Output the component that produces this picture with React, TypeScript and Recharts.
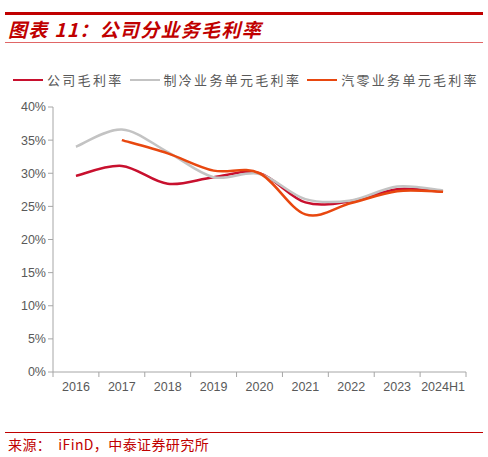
import React from 'react';
import { LineChart, Line, XAxis, YAxis } from 'recharts';

const categories = ['2016', '2017', '2018', '2019', '2020', '2021', '2022', '2023', '2024H1'];
const companyMargin = [29.6, 31.1, 28.4, 29.4, 30.0, 25.6, 25.8, 27.6, 27.2];
const coolingMargin = [34.0, 36.6, 33.2, 29.4, 29.9, 26.1, 25.9, 28.0, 27.4];
const autoMargin = [null, 35.0, 33.0, 30.4, 30.0, 23.8, 25.5, 27.3, 27.2];
const yTicks = [0, 5, 10, 15, 20, 25, 30, 35, 40];

const series = [
  { key: 'company', name: '公司毛利率', color: '#C8102E', values: companyMargin },
  { key: 'cooling', name: '制冷业务单元毛利率', color: '#C3C3C3', values: coolingMargin },
  { key: 'auto', name: '汽零业务单元毛利率', color: '#E8470F', values: autoMargin },
];

const data = categories.map((c, i) => {
  const row: Record<string, any> = { cat: c };
  series.forEach((s) => {
    row[s.key] = s.values[i];
  });
  return row;
});

const FONT = '"Liberation Sans", Arial, sans-serif';
const CJK = '"Noto Sans CJK SC", sans-serif';

// Catmull-Rom style smoothing (similar to spreadsheet "smoothed line")
function smoothCurve(context: any) {
  let pts: [number, number][] = [];
  const flush = () => {
    const n = pts.length;
    if (n === 0) return;
    context.moveTo(pts[0][0], pts[0][1]);
    if (n === 1) return;
    for (let i = 0; i < n - 1; i++) {
      const p0 = pts[i - 1] || pts[i];
      const p1 = pts[i];
      const p2 = pts[i + 1];
      const p3 = pts[i + 2] || p2;
      const c1x = p1[0] + (p2[0] - p0[0]) / 6;
      const c1y = p1[1] + (p2[1] - p0[1]) / 6;
      const c2x = p2[0] - (p3[0] - p1[0]) / 6;
      const c2y = p2[1] - (p3[1] - p1[1]) / 6;
      context.bezierCurveTo(c1x, c1y, c2x, c2y, p2[0], p2[1]);
    }
  };
  return {
    areaStart() {},
    areaEnd() {},
    lineStart() {
      pts = [];
    },
    lineEnd() {
      flush();
      pts = [];
    },
    point(x: number, y: number) {
      pts.push([+x, +y]);
    },
  };
}

const XTick = (props: any) => {
  const { x, y, payload, index, visibleTicksCount } = props;
  const bw = 413 / categories.length;
  const count = visibleTicksCount || categories.length;
  return (
    <g>
      <line x1={x - bw / 2} y1={y - 8} x2={x - bw / 2} y2={y - 3} stroke="#A6A6A6" strokeWidth={1} />
      {index === count - 1 && (
        <line x1={x + bw / 2} y1={y - 8} x2={x + bw / 2} y2={y - 3} stroke="#A6A6A6" strokeWidth={1} />
      )}
      <text x={x} y={y + 11} textAnchor="middle" fill="#595959" fontSize={12.5} fontFamily={FONT}>
        {payload.value}
      </text>
    </g>
  );
};

const LegendBlock = () => (
  <div
    style={{
      position: 'absolute',
      left: 13,
      top: 71,
      display: 'flex',
      alignItems: 'center',
      fontFamily: CJK,
      fontSize: 13,
      color: '#595959',
      letterSpacing: 2.3,
      whiteSpace: 'nowrap',
      lineHeight: '18px',
    }}
  >
    {series.map((s) => (
      <div key={s.key} style={{ display: 'flex', alignItems: 'center', marginRight: 6 }}>
        <div style={{ width: 30, height: 2.5, background: s.color, marginRight: 4 }} />
        <span>{s.name}</span>
      </div>
    ))}
  </div>
);

export default function App() {
  return (
    <div style={{ position: 'absolute', left: 0, top: 0, width: 488, height: 457, background: '#fff', overflow: 'hidden' }}>
      <div style={{ position: 'absolute', left: 5, top: 12, width: 478, height: 3, background: '#C00000' }} />
      <div
        style={{
          position: 'absolute',
          left: 8,
          top: 17,
          fontFamily: CJK,
          fontWeight: 700,
          fontStyle: 'italic',
          fontSize: 19,
          color: '#C00000',
          whiteSpace: 'nowrap',
          letterSpacing: 1.3,
          lineHeight: '24px',
        }}
      >
        图表 11：公司分业务毛利率
      </div>
      <div style={{ position: 'absolute', left: 5, top: 42, width: 478, height: 1, background: '#E06666' }} />
      <LegendBlock />
      <div style={{ position: 'absolute', left: 0, top: 0 }}>
        <LineChart width={488} height={457} data={data} margin={{ top: 107, right: 22, bottom: 55, left: 10 }}>
          <XAxis
            dataKey="cat"
            height={30}
            axisLine={{ stroke: '#A6A6A6' }}
            tickLine={false}
            tick={<XTick />}
            interval={0}
            padding={{ left: 413 / 18, right: 413 / 18 }}
          />
          <YAxis
            width={43}
            domain={[0, 40]}
            ticks={yTicks}
            interval={0}
            tickFormatter={(v: number) => `${v}%`}
            axisLine={{ stroke: '#A6A6A6' }}
            tickLine={{ stroke: '#A6A6A6' }}
            tickSize={5}
            tick={{ fill: '#595959', fontSize: 12.5, fontFamily: FONT }}
          />
          {series.map((s) => (
            <Line
              key={s.key}
              dataKey={s.key}
              name={s.name}
              type={smoothCurve as any}
              stroke={s.color}
              strokeWidth={2.5}
              dot={false}
              activeDot={false}
              isAnimationActive={false}
            />
          ))}
        </LineChart>
      </div>
      <div style={{ position: 'absolute', left: 5, top: 432, width: 478, height: 1, background: '#C00000' }} />
      <div
        style={{
          position: 'absolute',
          left: 8,
          top: 435,
          fontFamily: CJK,
          fontSize: 14,
          color: '#C00000',
          whiteSpace: 'nowrap',
          lineHeight: '18px',
          letterSpacing: 0.4,
        }}
      >
        来源：&nbsp;&nbsp;iFinD，中泰证券研究所
      </div>
    </div>
  );
}
